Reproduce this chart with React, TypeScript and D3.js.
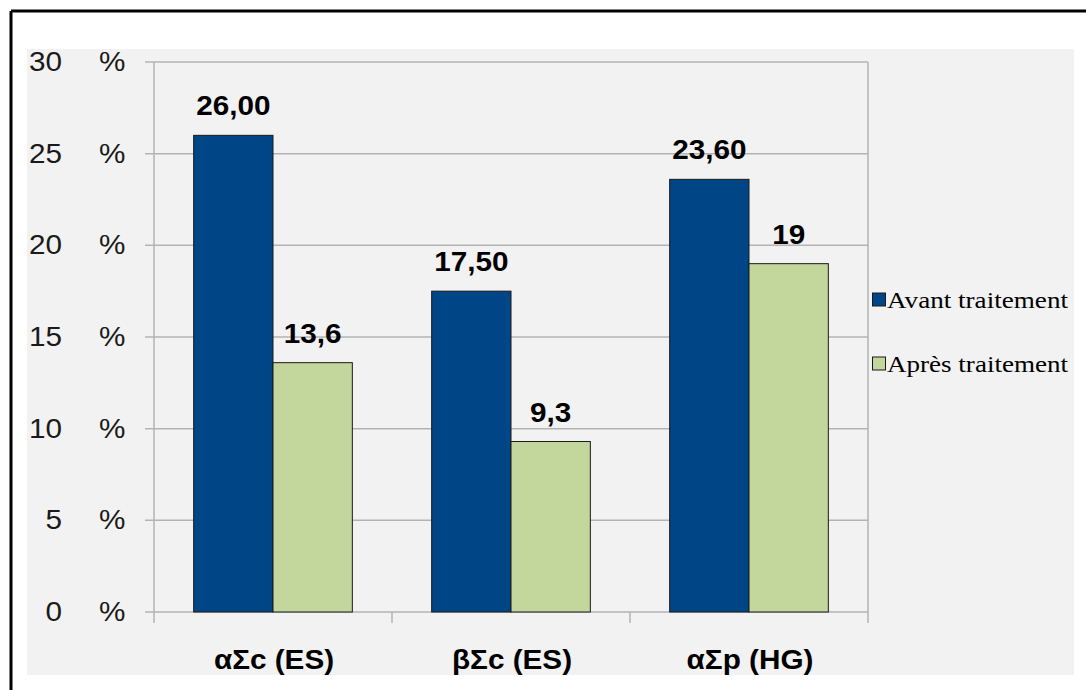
import React from "react";
import * as d3 from "d3";

const categories = ["αΣc (ES)", "βΣc (ES)", "αΣp (HG)"];
const seriesNames = ["Avant traitement", "Après traitement"];
const avant = [26.0, 17.5, 23.6];
const apres = [13.6, 9.3, 19];
const avantLabels = ["26,00", "17,50", "23,60"];
const apresLabels = ["13,6", "9,3", "19"];
const yTicks = [0, 5, 10, 15, 20, 25, 30];
const colors = ["#004586", "#c3d69b"];

const SX = 1.1;
function T(props: { x: number; y: number; anchor?: string; bold?: boolean; size?: number; children: React.ReactNode }) {
  const { x, y, anchor = "start", bold = false, size = 27, children } = props;
  return (
    <text
      transform={`translate(${x},${y}) scale(${SX},1)`}
      textAnchor={anchor}
      fontFamily="Liberation Sans, Arial"
      fontWeight={bold ? "bold" : "normal"}
      fontSize={size}
      fill={bold ? "#000" : "#1a1a1a"}
    >
      {children}
    </text>
  );
}

export default function App() {
  const W = 1086, H = 690;
  const left = 154, right = 868, top = 62, bottom = 612;
  const x0 = d3.scaleBand<string>().domain(categories).range([left, right]).paddingInner(0).paddingOuter(0);
  const inner = d3.scaleBand<number>().domain([0, 1]).range([0, x0.bandwidth()]).paddingOuter(0.5).paddingInner(0);
  const y = d3.scaleLinear().domain([0, 30]).range([bottom, top]);
  const series = [avant, apres];
  const labels = [avantLabels, apresLabels];
  const gridColor = "#b3b3b3";

  return (
    <svg width={W} height={H} style={{ position: "absolute", left: 0, top: 0 }}>
      <rect x={0} y={0} width={W} height={H} fill="#ffffff" />
      <rect x={27} y={49} width={1047} height={626} fill="#f2f2f2" />
      <line x1={11} y1={11} x2={W} y2={11} stroke="#000" strokeWidth={3} />
      <line x1={11} y1={11} x2={11} y2={H} stroke="#000" strokeWidth={3} />
      {yTicks.map((t) => (
        <g key={t}>
          <line x1={145} x2={right} y1={y(t)} y2={y(t)} stroke={gridColor} strokeWidth={1.5} />
          <T x={62} y={y(t) + 9} anchor="end">{t}</T>
          <T x={99} y={y(t) + 9}>%</T>
        </g>
      ))}
      <line x1={left} x2={left} y1={top} y2={bottom} stroke={gridColor} strokeWidth={1.5} />
      <line x1={right} x2={right} y1={top} y2={bottom} stroke={gridColor} strokeWidth={1.5} />
      {[...categories.map((c) => x0(c)!), right].map((xv, i) => (
        <line key={i} x1={xv} x2={xv} y1={bottom} y2={bottom + 11} stroke={gridColor} strokeWidth={1.5} />
      ))}
      {categories.map((c, ci) => (
        <g key={c}>
          {series.map((s, si) => {
            const bx = x0(c)! + inner(si)!;
            const bw = inner.bandwidth();
            return (
              <g key={si}>
                <rect x={bx} y={y(s[ci])} width={bw} height={bottom - y(s[ci])} fill={colors[si]} stroke="#1a1a1a" strokeWidth={1} />
                <T x={bx + bw / 2} y={y(s[ci]) - 20} anchor="middle" bold>{labels[si][ci]}</T>
              </g>
            );
          })}
          <T x={x0(c)! + x0.bandwidth() / 2 + 1} y={669} anchor="middle" bold>{c}</T>
        </g>
      ))}
      {seriesNames.map((n, i) => (
        <g key={n}>
          <rect x={872.5} y={293 + i * 64} width={13} height={13} fill={colors[i]} stroke="#1a1a1a" strokeWidth={1} />
          <text x={887} y={308 + i * 64} fontFamily="'Liberation Serif', 'Times New Roman', serif" fontSize={24} fill="#000" textLength={181} lengthAdjust="spacingAndGlyphs">{n}</text>
        </g>
      ))}
    </svg>
  );
}
